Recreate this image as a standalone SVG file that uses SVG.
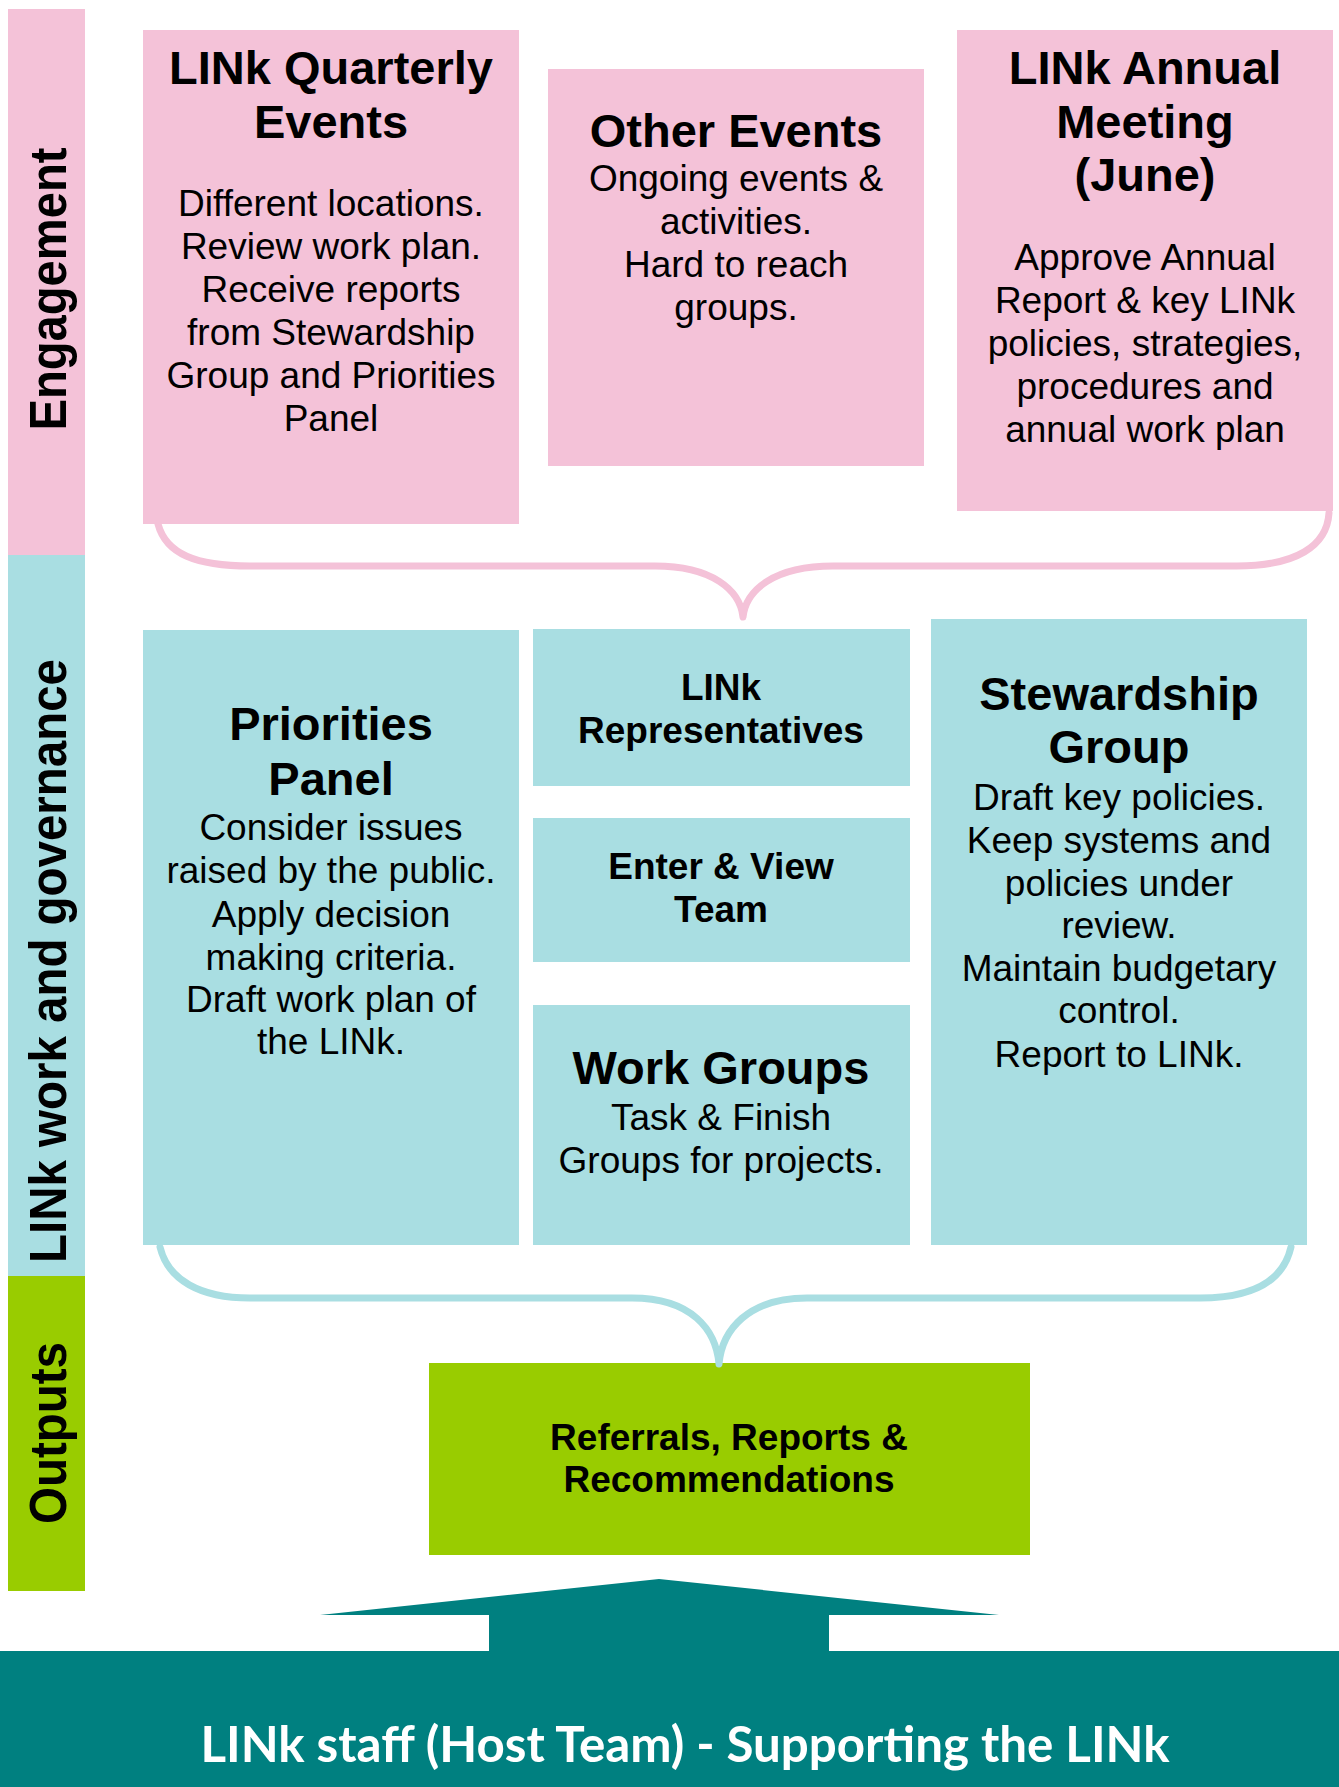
<svg xmlns="http://www.w3.org/2000/svg" width="1339" height="1787" viewBox="0 0 1339 1787">
<style>
.pink{fill:#F4C2D8}
.teal{fill:#A9DEE2}
.green{fill:#99CC00}
.dark{fill:#008080}
text{font-family:"Liberation Sans",Arial,sans-serif;fill:#000;text-anchor:middle}
.t{font-size:47px;font-weight:bold}
.b{font-size:37px}
.s{font-size:37px;font-weight:bold}
.side{font-size:52px;font-weight:bold}
.host{font-family:Lato,"Open Sans",sans-serif;font-size:50px;font-weight:bold;fill:#fff}
.brace{fill:none;stroke-width:7;stroke-linecap:round;stroke-linejoin:round}
</style>
<g id="lanes">
<rect class="pink" x="8" y="9" width="77" height="546"/>
<rect class="teal" x="8" y="555" width="77" height="721"/>
<rect class="green" x="8" y="1276" width="77" height="315"/>
<text class="side" transform="translate(66,289) rotate(-90)" textLength="283" lengthAdjust="spacingAndGlyphs">Engagement</text>
<text class="side" transform="translate(66,961) rotate(-90)" textLength="604" lengthAdjust="spacingAndGlyphs">LINk work and governance</text>
<text class="side" transform="translate(66,1433) rotate(-90)" textLength="182" lengthAdjust="spacingAndGlyphs">Outputs</text>
</g>
<g id="quarterly">
<rect class="pink" x="143" y="30" width="376" height="494"/>
<text class="t" x="331" y="84">LINk Quarterly</text>
<text class="t" x="331" y="138">Events</text>
<text class="b" x="331" y="216">Different locations.</text>
<text class="b" x="331" y="259">Review work plan.</text>
<text class="b" x="331" y="302">Receive reports</text>
<text class="b" x="331" y="345">from Stewardship</text>
<text class="b" x="331" y="388">Group and Priorities</text>
<text class="b" x="331" y="431">Panel</text>
</g>
<g id="other">
<rect class="pink" x="548" y="69" width="376" height="397"/>
<text class="t" x="736" y="147">Other Events</text>
<text class="b" x="736" y="191">Ongoing events &amp;</text>
<text class="b" x="736" y="234">activities.</text>
<text class="b" x="736" y="277">Hard to reach</text>
<text class="b" x="736" y="320">groups.</text>
</g>
<g id="annual">
<rect class="pink" x="957" y="30" width="376" height="481"/>
<text class="t" x="1145" y="84">LINk Annual</text>
<text class="t" x="1145" y="138">Meeting</text>
<text class="t" x="1145" y="191">(June)</text>
<text class="b" x="1145" y="270">Approve Annual</text>
<text class="b" x="1145" y="313">Report &amp; key LINk</text>
<text class="b" x="1145" y="356">policies, strategies,</text>
<text class="b" x="1145" y="399">procedures and</text>
<text class="b" x="1145" y="442">annual work plan</text>
</g>
<g id="priorities">
<rect class="teal" x="143" y="630" width="376" height="615"/>
<text class="t" x="331" y="740">Priorities</text>
<text class="t" x="331" y="795">Panel</text>
<text class="b" x="331" y="840">Consider issues</text>
<text class="b" x="331" y="883">raised by the public.</text>
<text class="b" x="331" y="927">Apply decision</text>
<text class="b" x="331" y="970">making criteria.</text>
<text class="b" x="331" y="1012">Draft work plan of</text>
<text class="b" x="331" y="1054">the LINk.</text>
</g>
<g id="reps">
<rect class="teal" x="533" y="629" width="377" height="157"/>
<text class="s" x="721" y="700">LINk</text>
<text class="s" x="721" y="743">Representatives</text>
</g>
<g id="enterview">
<rect class="teal" x="533" y="818" width="377" height="144"/>
<text class="s" x="721" y="879">Enter &amp; View</text>
<text class="s" x="721" y="922">Team</text>
</g>
<g id="workgroups">
<rect class="teal" x="533" y="1005" width="377" height="240"/>
<text class="t" x="721" y="1084">Work Groups</text>
<text class="b" x="721" y="1130">Task &amp; Finish</text>
<text class="b" x="721" y="1173">Groups for projects.</text>
</g>
<g id="stewardship">
<rect class="teal" x="931" y="619" width="376" height="626"/>
<text class="t" x="1119" y="710">Stewardship</text>
<text class="t" x="1119" y="763">Group</text>
<text class="b" x="1119" y="810">Draft key policies.</text>
<text class="b" x="1119" y="853">Keep systems and</text>
<text class="b" x="1119" y="896">policies under</text>
<text class="b" x="1119" y="938">review.</text>
<text class="b" x="1119" y="981">Maintain budgetary</text>
<text class="b" x="1119" y="1023">control.</text>
<text class="b" x="1119" y="1067">Report to LINk.</text>
</g>
<g id="outputs">
<rect class="green" x="429" y="1363" width="601" height="192"/>
<text class="s" x="729" y="1450">Referrals, Reports &amp;</text>
<text class="s" x="729" y="1492">Recommendations</text>
</g>
<g id="connectors">
<path class="brace" stroke="#F4C2D8" d="M158,524 C166,554 196,566 250,566 L655,566 C712,566 740,590 743,617 C746,590 774,566 833,566 L1237,566 C1296,566 1327,546 1329,513"/>
<path class="brace" stroke="#A9DEE2" d="M160,1247 C168,1280 200,1298 250,1298 L632,1298 C692,1298 716,1330 719,1364 C722,1330 748,1298 807,1298 L1200,1298 C1258,1298 1284,1278 1291,1247"/>
</g>
<g id="hostteam">
<polygon class="dark" points="659,1579 999,1615 829,1615 829,1652 489,1652 489,1615 320,1615"/>
<rect class="dark" x="0" y="1651" width="1339" height="136"/>
<text class="host" x="685" y="1762" textLength="969" lengthAdjust="spacingAndGlyphs">LINk staff (Host Team) - Supporting the LINk</text>
</g>
</svg>
